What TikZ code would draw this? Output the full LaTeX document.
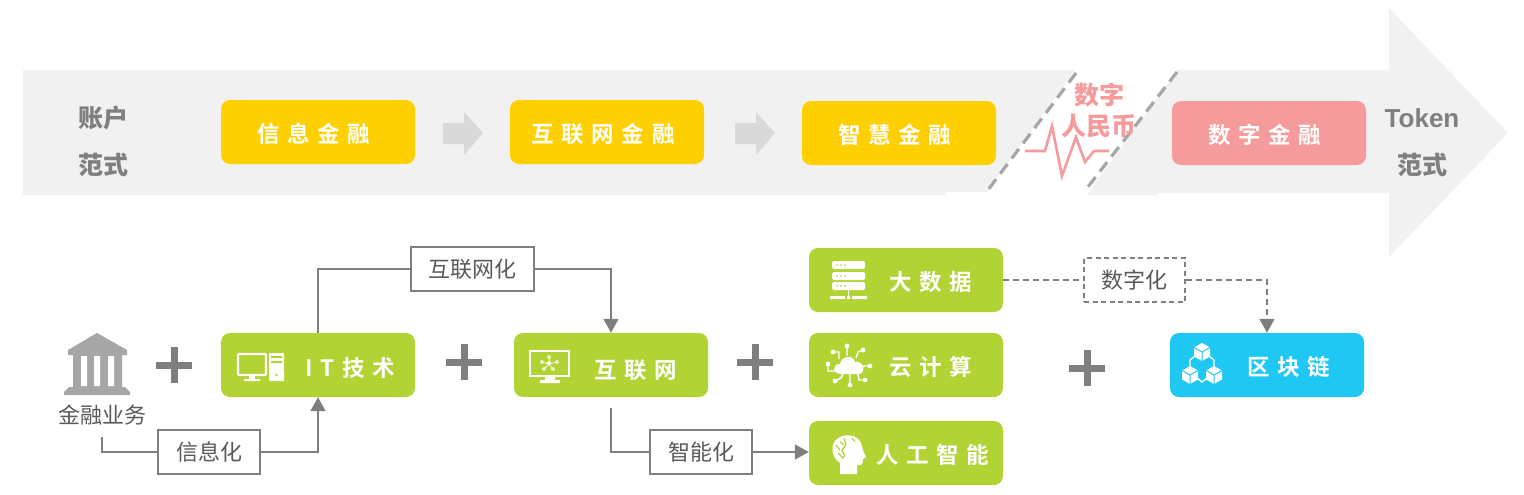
\documentclass[tikz,border=0pt]{standalone}
\usepackage{fontspec}
\setmainfont{Noto Sans CJK SC}
\newfontfamily\spacedcjk[LetterSpace=34,BoldFont={Noto Sans CJK SC Bold}]{Noto Sans CJK SC}
\newfontfamily\plaincjk{Noto Sans CJK SC}
\newfontfamily\latinbold{Liberation Sans}
\usetikzlibrary{arrows.meta,calc}
\definecolor{yellowbox}{HTML}{FFD000}
\definecolor{greenbox}{HTML}{B2D334}
\definecolor{pinkbox}{HTML}{F59B9B}
\definecolor{cyanbox}{HTML}{1FC8F3}
\definecolor{bandgrey}{HTML}{F1F1F1}
\definecolor{arrowgrey}{HTML}{D9D9D9}
\definecolor{linegrey}{HTML}{7F7F7F}
\definecolor{textgrey}{HTML}{595959}
\definecolor{bankgrey}{HTML}{A6A6A6}
\definecolor{dashgrey}{HTML}{A6A6A6}
\tikzset{
  tile/.style={rounded corners=9pt,minimum width=194pt,minimum height=64pt,inner sep=0pt,fill=#1},
  tiletext/.style={text=white,font=\spacedcjk\bfseries\fontsize{22.5}{24}\selectfont,inner sep=0pt},
  stagetext/.style={text=linegrey,font=\plaincjk\bfseries\fontsize{25}{27}\selectfont,inner sep=0pt},
  pinktext/.style={text=pinkbox,font=\plaincjk\bfseries\fontsize{25}{27}\selectfont,inner sep=0pt},
  tagbox/.style={draw=linegrey,line width=1.5pt,fill=white,text=textgrey,inner sep=0pt,
    minimum height=44pt,font=\plaincjk\fontsize{22}{24}\selectfont},
  link/.style={draw=linegrey,line width=1.6pt},
  tip/.style={-{Triangle[length=14pt,width=15pt]}},
  plusbar/.style={draw=linegrey,line width=7pt},
  stepshape/.style={fill=arrowgrey,draw=none},
  iconline/.style={draw=white,line width=2.4pt,fill=none},
  iconthin/.style={draw=white,line width=1.4pt,fill=none},
  iconfill/.style={fill=white,draw=none}
}
\begin{document}
\begin{tikzpicture}[x=1pt,y=-1pt]
\useasboundingbox (0,0) rectangle (1524,495);

% large banner arrow
\fill[bandgrey] (23,70) -- (1389,70) -- (1389,8) -- (1508,133) -- (1389,257) -- (1389,193)
  -- (1157,193) -- (1157,195) -- (23,195) -- cycle;
% break in the banner
\fill[white] (1078,66) -- (1180,66) -- (1086,196) -- (984,196) -- cycle;
\fill[white] (945,192) rectangle (1000,196);
\draw[dashgrey,line width=3.2pt,dash pattern=on 12pt off 7pt] (1076,73) -- (988,190);
\draw[dashgrey,line width=3.2pt,dash pattern=on 12pt off 7pt] (1177,72) -- (1084,192);

% stage labels on the banner
\node[stagetext] (acct1) at (103,118) {账户};
\node[stagetext] (acct2) at (103,165) {范式};
\node[stagetext,font=\latinbold\bfseries\fontsize{26}{28}\selectfont] (tok1) at (1422,118) {Token};
\node[stagetext] (tok2) at (1422,165) {范式};

% stage tiles
\node[tile=yellowbox] (info) at (318,132) {};
\node[tile=yellowbox] (inet) at (607,132) {};
\node[tile=yellowbox] (smart) at (899,133) {};
\node[tile=pinkbox] (digital) at (1269,133) {};
\node[tiletext] (infot) at (314,134) {信息金融};
\node[tiletext] (inett) at (603,134) {互联网金融};
\node[tiletext] (smartt) at (895,135) {智慧金融};
\node[tiletext] (digitalt) at (1265,135) {数字金融};

% step arrows between stage tiles
\foreach \sx in {443,735}{
  \fill[stepshape] (\sx,123) -- (\sx+21,123) -- (\sx+21,112) -- (\sx+40,133) -- (\sx+21,155)
    -- (\sx+21,144) -- (\sx,144) -- cycle;
}

% digital currency mark
\node[pinktext] (dc1) at (1099,95) {数字};
\draw[pinkbox,line width=2.6pt,line join=miter] (1025,151) -- (1045,151) -- (1052,126) -- (1062,176)
  -- (1076,137) -- (1085,162) -- (1094,151) -- (1109,151);
\node[pinktext] (dc2) at (1099,126) {人民币};

% bank icon
\fill[bankgrey] (97,333) -- (127,350) -- (127,355) -- (122,355) -- (122,387) -- (125,387) -- (130,392)
  -- (130,395) -- (64,395) -- (64,392) -- (69,387) -- (73,387) -- (73,355) -- (68,355) -- (68,350) -- cycle;
\fill[white] (81,356) rectangle (87,386) (94,356) rectangle (100,386) (108,356) rectangle (114,386);
\node[text=textgrey,font=\plaincjk\fontsize{22}{24}\selectfont,inner sep=0pt] (bank) at (102,415) {金融业务};

% technology tiles
\node[tile=greenbox] (it) at (318,365) {};
\node[tile=greenbox] (web) at (611,365) {};
\node[tile=greenbox] (bigdata) at (906,280) {};
\node[tile=greenbox] (cloud) at (906,365) {};
\node[tile=greenbox] (ai) at (906,453) {};
\node[tile=cyanbox] (chain) at (1267,365) {};
\node[tiletext] (itt) at (350,368) {IT技术};
\node[tiletext] (webt) at (636,370) {互联网};
\node[tiletext] (bigdatat) at (931,282) {大数据};
\node[tiletext] (cloudt) at (931,367) {云计算};
\node[tiletext] (ait) at (933,455) {人工智能};
\node[tiletext] (chaint) at (1289,367) {区块链};

% desktop computer icon
\draw[iconline,rounded corners=1pt] (238,354) rectangle (266,375);
\fill[white] (249,375) rectangle (255,379) (244,379) rectangle (260,381);
\fill[white,rounded corners=1pt] (269,353) rectangle (284,381);
\fill[greenbox] (271,356) rectangle (282,358) (271,361) rectangle (282,363);
\fill[greenbox] (276.5,375) circle (1.4pt);

% networked monitor icon
\draw[iconline] (530,351) rectangle (569,376);
\fill[white] (545,377) rectangle (555,380) (540,380) rectangle (560,383);
\foreach \hx/\hy in {549/357,557/362,553/369,544/369,542/362}{
  \draw[white,line width=0.7pt] (549,364) -- (\hx,\hy);
  \draw[white,line width=0.9pt,fill=greenbox] (\hx,\hy) circle (1.5pt);
}
\fill[white] (549,363) circle (2pt);

% server rack icon
\foreach \ry in {261,272,282}{
  \fill[white,rounded corners=1.5pt] (832,\ry) rectangle (865,\ry+8);
  \foreach \dx in {837,841,845}{\fill[greenbox] (\dx,\ry+4) circle (0.9pt);}
}
\draw[white,line width=1.4pt] (848.5,290) -- (848.5,296);
\fill[white] (830,296) rectangle (845,299) (847,296) rectangle (850,299) (852,296) rectangle (867,299);

% cloud with connection nodes icon
\fill[white] (841,374) .. controls (832,374) and (832,364) .. (840,364)
  .. controls (841,356) and (853,354) .. (855,362) .. controls (864,360) and (867,374) .. (858,374) -- cycle;
\draw[iconthin] (847,346) -- (847,356)
  (863,350) -- (858,352) -- (856,358)
  (870,366) -- (862,366)
  (865,380) -- (859,380) -- (858,374)
  (850,385) -- (850,374)
  (835,381) -- (841,378) -- (843,374)
  (828,364) -- (828,371) -- (836,371)
  (833,352) -- (839,352) -- (839,359);
\foreach \ex/\ey in {847/346,863/350,870/366,865/380,850/385,835/381,828/364,833/352}{
  \fill[white] (\ex,\ey) circle (2.4pt);
}

% head with circuit icon
\fill[white] (840,474) -- (840,463) .. controls (831,457) and (830,444) .. (837,439)
  .. controls (844,433) and (857,434) .. (861,443) .. controls (863,448) and (862,451) .. (866,456)
  .. controls (867,458) and (863,458) .. (863,459) .. controls (863,464) and (862,466) .. (857,465) -- (857,474) -- cycle;
\draw[greenbox,line width=1.2pt] (844,438) -- (846,445) -- (842,450) -- (844,455)
  (836,445) -- (840,450) (840,442) -- (844,445)
  (852,438) -- (855,442)
  (838,453) -- (843,458) -- (845,455);

% three linked cubes icon
\foreach \cx/\cy in {1202/352,1190/375,1214/375}{
  \fill[white] (\cx,\cy-9) -- (\cx+8,\cy-4.5) -- (\cx+8,\cy+4.5) -- (\cx,\cy+9) -- (\cx-8,\cy+4.5) -- (\cx-8,\cy-4.5) -- cycle;
  \draw[cyanbox,line width=1pt] (\cx-8,\cy-4.5) -- (\cx,\cy) -- (\cx+8,\cy-4.5) (\cx,\cy) -- (\cx,\cy+9);
}
\draw[iconthin] (1195,356) -- (1190,360) -- (1190,367) (1209,356) -- (1214,360) -- (1214,367)
  (1197,378) -- (1202,382) -- (1207,378);

% plus signs
\foreach \px/\py in {174/365,464/362,755/362,1087/368}{
  \draw[plusbar] (\px-18,\py) -- (\px+18,\py) (\px,\py-18) -- (\px,\py+18);
}

% transformation tags
\node[tagbox,minimum width=123pt] (tagweb) at (472.5,269) {互联网化};
\node[tagbox,minimum width=102pt] (taginfo) at (209,452) {信息化};
\node[tagbox,minimum width=102pt] (tagsmart) at (701,452) {智能化};
\node[tagbox,minimum width=101pt,dashed,dash pattern=on 5pt off 3.5pt] (tagdigi) at (1134.5,280) {数字化};

% connectors
\coordinate (bankfoot) at (102,437);
\coordinate (webfoot) at (611,408);
\draw[link,tip] (bankfoot) |- (taginfo.west) (taginfo.east) -| (it.south);
\draw[link] (it.north) |- (tagweb.west);
\draw[link,tip] (tagweb.east) -| (web.north);
\draw[link] (webfoot) |- (tagsmart.west);
\draw[link,tip] (tagsmart.east) -- (ai.west |- tagsmart.east);
\draw[link,dash pattern=on 6pt off 4pt] (bigdata.east) -- (tagdigi.west);
\draw[link,dash pattern=on 6pt off 4pt,tip] (tagdigi.east) -| (chain.north);
\end{tikzpicture}
\end{document}
